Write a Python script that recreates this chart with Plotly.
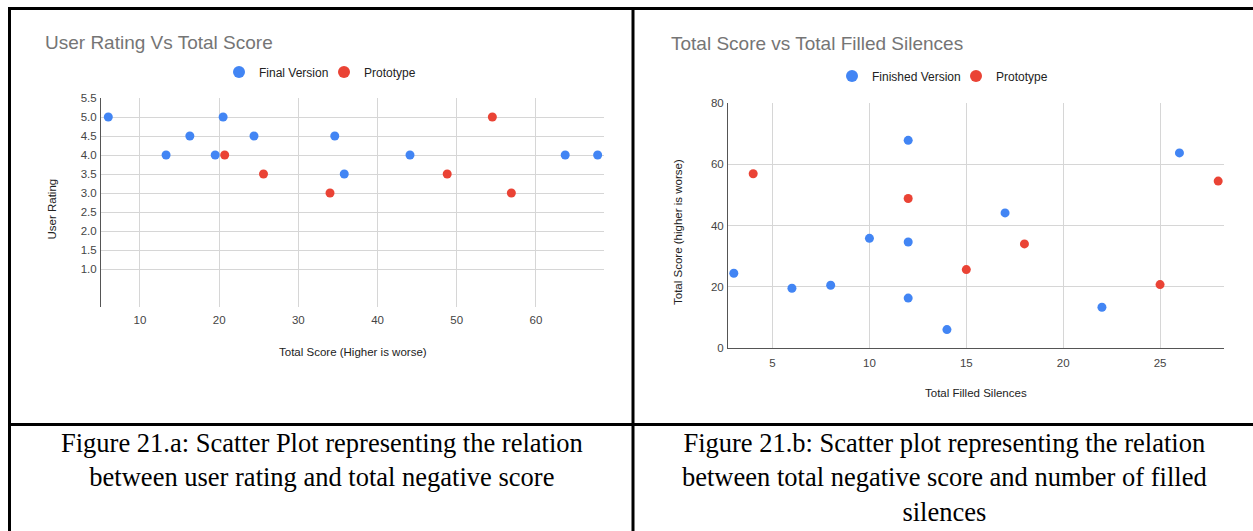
import plotly.graph_objects as go

W, H = 1253, 531

# Session data: total score, user rating and filled silences per participant
final_score = [6.0, 13.3, 16.3, 19.5, 20.5, 24.4, 34.6, 35.8, 44.1, 63.7, 67.8]
final_rating = [5.0, 4.0, 4.5, 4.0, 5.0, 4.5, 4.5, 3.5, 4.0, 4.0, 4.0]
final_silences = [14, 22, 12, 6, 8, 3, 12, 10, 17, 26, 12]

proto_score = [20.7, 25.6, 34.0, 48.8, 54.5, 56.9]
proto_rating = [4.0, 3.5, 3.0, 3.5, 5.0, 3.0]
proto_silences = [25, 15, 18, 12, 28, 4]

rating_ticks = [1.0, 1.5, 2.0, 2.5, 3.0, 3.5, 4.0, 4.5, 5.0, 5.5]
score_ticks_a = [10, 20, 30, 40, 50, 60]
silence_ticks = [5, 10, 15, 20, 25]
score_ticks_b = [0, 20, 40, 60, 80]

caption_a = "Figure 21.a: Scatter Plot representing the relation<br>between user rating and total negative score"
caption_b = ("Figure 21.b: Scatter plot representing the relation<br>"
             "between total negative score and number of filled<br>silences")

BLUE = "#4285F4"
RED = "#EA4335"
GRID = "#d6d6d6"
SANS = "Liberation Sans, Arial, sans-serif"
SERIF = "Liberation Serif, Times New Roman, serif"


def px_x(p):
    return p / W


def px_y(p):
    return 1 - p / H


fig = go.Figure()

fig.add_trace(go.Scatter(x=final_score, y=final_rating, mode="markers", name="Final Version",
                         marker=dict(color=BLUE, size=9), xaxis="x", yaxis="y", legend="legend"))
fig.add_trace(go.Scatter(x=proto_score, y=proto_rating, mode="markers", name="Prototype",
                         marker=dict(color=RED, size=9), xaxis="x", yaxis="y", legend="legend"))
fig.add_trace(go.Scatter(x=final_silences, y=final_score, mode="markers", name="Finished Version",
                         marker=dict(color=BLUE, size=9), xaxis="x2", yaxis="y2", legend="legend2"))
fig.add_trace(go.Scatter(x=proto_silences, y=proto_score, mode="markers", name="Prototype",
                         marker=dict(color=RED, size=9), xaxis="x2", yaxis="y2", legend="legend2"))

tickfont = dict(family=SANS, size=11.5, color="#444444")
axis_common = dict(showgrid=True, gridcolor=GRID, gridwidth=1, zeroline=False, ticks="",
                   tickfont=tickfont, automargin=False, fixedrange=True)
legend_common = dict(orientation="h", xanchor="left", yanchor="middle",
                     font=dict(family=SANS, size=12, color="#222222"), itemsizing="constant",
                     bgcolor="rgba(0,0,0,0)", borderwidth=0)

fig.update_layout(
    template="none",
    width=W, height=H,
    margin=dict(l=0, r=0, t=0, b=0, pad=0, autoexpand=False),
    font=dict(family=SANS, color="#222222"),
    paper_bgcolor="white", plot_bgcolor="white",
    xaxis=dict(domain=[px_x(101), px_x(604)], range=[5.08, 68.6], tickvals=score_ticks_a,
               showline=False, anchor="y", ticklabelstandoff=4, **axis_common),
    yaxis=dict(domain=[px_y(307), px_y(98)], range=[0, 5.5], tickvals=rating_ticks,
               tickformat=".1f", showline=True, linecolor="#555555", linewidth=1,
               anchor="x", ticklabelstandoff=1, **axis_common),
    xaxis2=dict(domain=[px_x(728), px_x(1224)], range=[2.7, 28.3], tickvals=silence_ticks,
                showline=True, linecolor="#555555", linewidth=1, anchor="y2",
                ticklabelstandoff=4, **axis_common),
    yaxis2=dict(domain=[px_y(348), px_y(103)], range=[0, 80], tickvals=score_ticks_b,
                showline=True, linecolor="#555555", linewidth=1, anchor="x2",
                ticklabelstandoff=1, **axis_common),
    legend=dict(x=px_x(219), y=px_y(72), entrywidth=60, **legend_common),
    legend2=dict(x=px_x(832), y=px_y(76), entrywidth=79, **legend_common),
)

annotations = [
    # chart titles
    dict(text="User Rating Vs Total Score", x=px_x(43), y=px_y(42), xanchor="left", yanchor="middle",
         font=dict(family=SANS, size=19, color="#757575")),
    dict(text="Total Score vs Total Filled Silences", x=px_x(669), y=px_y(43.5), xanchor="left",
         yanchor="middle", font=dict(family=SANS, size=19, color="#757575")),
    # axis titles
    dict(text="Total Score (Higher is worse)", x=px_x(353), y=px_y(352), xanchor="center",
         yanchor="middle", font=dict(family=SANS, size=11.5, color="#222222")),
    dict(text="User Rating", x=px_x(51), y=px_y(209.5), xanchor="center", yanchor="middle",
         textangle=-90, font=dict(family=SANS, size=11.5, color="#222222")),
    dict(text="Total Filled Silences", x=px_x(976), y=px_y(392.5), xanchor="center",
         yanchor="middle", font=dict(family=SANS, size=11.5, color="#222222")),
    dict(text="Total Score (higher is worse)", x=px_x(678), y=px_y(232), xanchor="center",
         yanchor="middle", textangle=-90, font=dict(family=SANS, size=11.5, color="#222222")),
    # figure captions
    dict(text=caption_a, x=px_x(322), y=px_y(426), xanchor="center", yanchor="top",
         font=dict(family=SERIF, size=26.5, color="#000000")),
    dict(text=caption_b, x=px_x(944), y=px_y(426), xanchor="center", yanchor="top",
         font=dict(family=SERIF, size=26.5, color="#000000")),
]
for a in annotations:
    a.update(xref="paper", yref="paper", showarrow=False)
fig.update_layout(annotations=annotations)

# table frame around the two panels and their captions
frame = [
    (8, 8.5, W, 8.5),
    (9.5, 7, 9.5, H),
    (633, 7, 633, H),
    (8, 424.5, W, 424.5),
]
fig.update_layout(shapes=[
    dict(type="line", xref="paper", yref="paper", x0=px_x(a), y0=px_y(b), x1=px_x(c), y1=px_y(d),
         line=dict(color="black", width=3), layer="above")
    for a, b, c, d in frame
])

fig.write_html("out.html", config={"displayModeBar": False})
